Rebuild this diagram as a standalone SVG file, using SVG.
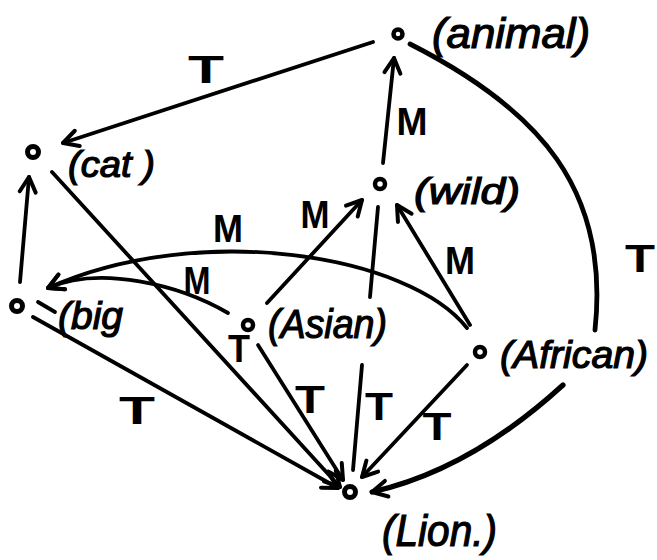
<svg xmlns="http://www.w3.org/2000/svg" width="657" height="560" viewBox="0 0 657 560">
<style>
.e{fill:none;stroke:#000;stroke-width:3.8;stroke-linecap:round;stroke-linejoin:round}
.a{marker-end:url(#ah)}
.n{fill:#fff;stroke:#000;stroke-width:4.5}
.t{font-family:"Liberation Sans",Arial,sans-serif;font-style:italic;font-size:36px;fill:#000;stroke:#000;stroke-width:1.2}
.l{font-family:"Liberation Sans",Arial,sans-serif;font-weight:bold;font-size:38px;fill:#000;text-anchor:middle}
</style>
<defs>
<marker id="ah" markerUnits="userSpaceOnUse" viewBox="-18 -12 22 24" refX="0" refY="0" markerWidth="22" markerHeight="24" orient="auto" overflow="visible">
<path d="M-15,-8 L0,0 L-15,8" fill="none" stroke="#000" stroke-width="4" stroke-linecap="round" stroke-linejoin="round"/>
</marker>
</defs>
<rect width="657" height="560" fill="#fff"/>
<g id="connectors">
<line class="e a" x1="373" y1="42" x2="63" y2="143"/>
<line class="e a" x1="383" y1="163" x2="394" y2="58"/>
<path class="e" style="stroke-width:4.8" d="M410,44 C540,110 610,190 595,330"/>
<line class="e a" x1="20" y1="282" x2="29" y2="177"/>
<line class="e a" x1="52" y1="172" x2="340" y2="487"/>
<path class="e a" d="M467,328 C410,255 200,220 48,288"/>
<path class="e a" d="M228,313 C180,285 100,265 48,288"/>
<line class="e a" x1="267" y1="303" x2="362" y2="200"/>
<line class="e" x1="378" y1="207" x2="370" y2="297"/>
<line class="e" x1="362" y1="365" x2="353" y2="470"/>
<line class="e a" x1="470" y1="325" x2="397" y2="205"/>
<line class="e a" x1="467" y1="365" x2="362" y2="477"/>
<path class="e a" style="stroke-width:5.2" d="M563,385 Q470,470 372,492"/>
<line class="e a" x1="33" y1="317" x2="338" y2="488"/>
<line class="e a" x1="258" y1="345" x2="343" y2="480"/>
<line class="e" x1="38" y1="302" x2="55" y2="312"/>
<text class="l" x="206" y="83" textLength="36" lengthAdjust="spacingAndGlyphs">T</text>
<text class="l" x="412" y="135" textLength="31" lengthAdjust="spacingAndGlyphs">M</text>
<text class="l" x="640" y="272" textLength="30" lengthAdjust="spacingAndGlyphs">T</text>
<text class="l" x="228" y="242" textLength="30" lengthAdjust="spacingAndGlyphs">M</text>
<text class="l" x="315" y="228" textLength="29" lengthAdjust="spacingAndGlyphs">M</text>
<text class="l" x="460" y="274" textLength="30" lengthAdjust="spacingAndGlyphs">M</text>
<text class="l" x="197" y="294" textLength="27" lengthAdjust="spacingAndGlyphs">M</text>
<text class="l" x="239" y="362" textLength="22" lengthAdjust="spacingAndGlyphs">T</text>
<text class="l" x="310" y="413" textLength="30" lengthAdjust="spacingAndGlyphs">T</text>
<text class="l" x="379" y="420" textLength="28" lengthAdjust="spacingAndGlyphs">T</text>
<text class="l" x="437" y="440" textLength="29" lengthAdjust="spacingAndGlyphs">T</text>
<text class="l" x="137" y="424" textLength="36" lengthAdjust="spacingAndGlyphs">T</text>
</g>
<g id="node-animal"><circle class="n" cx="398" cy="34" r="4.5"/><text class="t" x="432" y="48" style="font-size:42px" textLength="158" lengthAdjust="spacingAndGlyphs">(animal)</text></g>
<g id="node-cat"><circle class="n" cx="33" cy="152" r="5.5" style="stroke-width:5"/><text class="t" x="68" y="177" textLength="87" lengthAdjust="spacingAndGlyphs">(cat )</text></g>
<g id="node-wild"><circle class="n" cx="380" cy="184" r="5"/><text class="t" x="414" y="204" textLength="106" lengthAdjust="spacingAndGlyphs">(wild)</text></g>
<g id="node-big"><circle class="n" cx="17" cy="306" r="5.5" style="stroke-width:5"/><text class="t" x="58" y="329" style="font-size:38px" textLength="65" lengthAdjust="spacingAndGlyphs">(big</text></g>
<g id="node-asian"><circle class="n" cx="248" cy="325" r="5" style="stroke-width:4.5"/><text class="t" x="268" y="338" style="font-size:40px" textLength="119" lengthAdjust="spacingAndGlyphs">(Asian)</text></g>
<g id="node-african"><circle class="n" cx="480" cy="352" r="5" style="stroke-width:4.5"/><text class="t" x="500" y="368" style="font-size:38px" textLength="148" lengthAdjust="spacingAndGlyphs">(African)</text></g>
<g id="node-lion"><circle class="n" cx="350" cy="492" r="5.5" style="stroke-width:5"/><text class="t" x="382" y="546" style="font-size:44px" textLength="115" lengthAdjust="spacingAndGlyphs">(Lion.)</text></g>
</svg>
